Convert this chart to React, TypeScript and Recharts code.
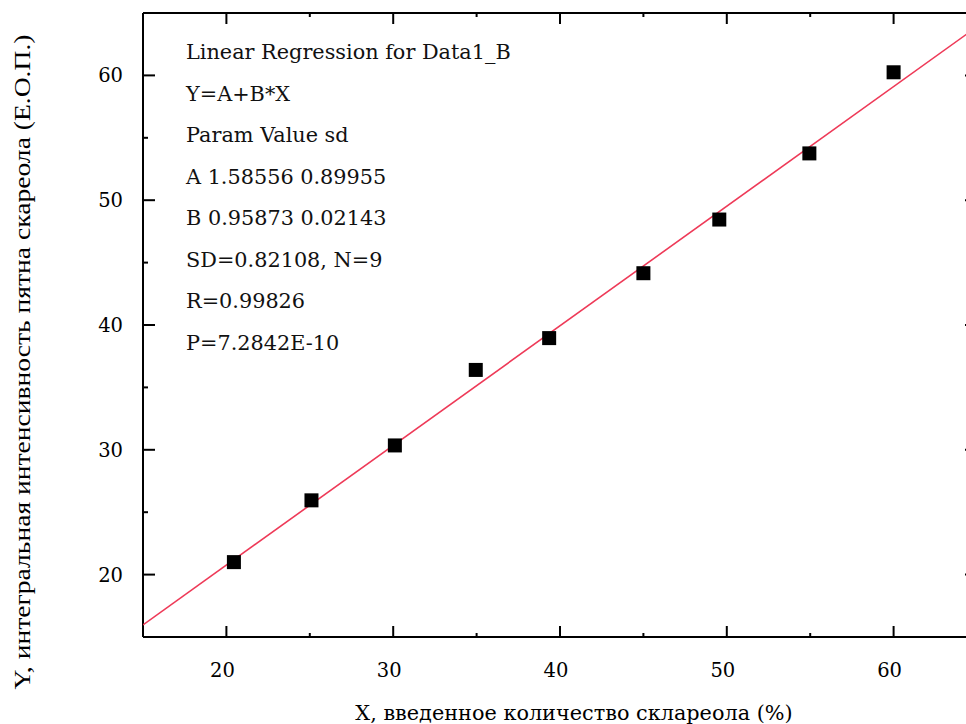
import React from "react";
import { ScatterChart, Scatter, XAxis, YAxis } from "recharts";

// measured points (X %, Y intensity)
const xValues = [20.45, 25.1, 30.1, 34.95, 39.35, 45.0, 49.55, 54.95, 60.0];
const yValues = [21.0, 25.95, 30.35, 36.4, 38.95, 44.15, 48.45, 53.75, 60.25];

// fitted line Y = A + B*X, end points at the edges of the frame
const fitX = [15, 65];
const fitY = [15.97, 63.9];

const majorTicks = [20, 30, 40, 50, 60];
const allTicks = [20, 25, 30, 35, 40, 45, 50, 55, 60, 65];

const statsLines = [
  "Linear Regression for Data1_B",
  "Y=A+B*X",
  "Param Value sd",
  "A 1.58556 0.89955",
  "B 0.95873 0.02143",
  "SD=0.82108, N=9",
  "R=0.99826",
  "P=7.2842E-10",
];

const xTitle = "X, введенное количество склареола (%)";
const yTitle = "Y, интегральная интенсивность пятна скареола (Е.О.П.)";

const points = xValues.map((x, i) => ({ x, y: yValues[i] }));
const fitData = fitX.map((x, i) => ({ x, y: fitY[i] }));

const FONT = "'DejaVu Serif', 'Liberation Serif', serif";
const isMajor = (v: number) => majorTicks.includes(v);

const BottomTick = ({ x, y, payload }: any) => {
  const major = isMajor(payload.value);
  return (
    <g>
      <line x1={x} x2={x} y1={y} y2={y - (major ? 11 : 4)} stroke="#000" strokeWidth={2} />
      {major && (
        <text x={x - 4} y={y + 40} textAnchor="middle" fontSize={19.5} fontFamily={FONT} fill="#000">
          {payload.value}
        </text>
      )}
    </g>
  );
};

const TopTick = ({ x, y, payload }: any) => {
  const major = isMajor(payload.value);
  return <line x1={x} x2={x} y1={y} y2={y + (major ? 11 : 4)} stroke="#000" strokeWidth={2} />;
};

const LeftTick = ({ x, y, payload }: any) => {
  const major = isMajor(payload.value);
  return (
    <g>
      <line x1={x} x2={x + (major ? 12 : 5)} y1={y} y2={y} stroke="#000" strokeWidth={2} />
      {major && (
        <text x={x - 20} y={y + 7} textAnchor="end" fontSize={19.5} fontFamily={FONT} fill="#000">
          {payload.value}
        </text>
      )}
    </g>
  );
};

const RightTick = ({ x, y, payload }: any) => {
  const major = isMajor(payload.value);
  return <line x1={x} x2={x - (major ? 12 : 5)} y1={y} y2={y} stroke="#000" strokeWidth={2} />;
};

const Square = ({ cx, cy }: any) => (
  <rect x={cx - 7} y={cy - 7} width={14} height={14} fill="#000" />
);

const NoDot = () => <g />;

export default function App() {
  return (
    <div
      style={{
        position: "absolute", left: 0, top: 0, width: 966, height: 724,
        overflow: "hidden", background: "#fff",
      }}
    >
      <ScatterChart width={980} height={724} margin={{ top: 0, right: 0, bottom: 0, left: 0 }}>
        <XAxis
          xAxisId="b" type="number" dataKey="x" domain={[15, 65]} allowDataOverflow
          ticks={allTicks} interval={0} height={87} tickSize={0} tickMargin={0}
          tick={<BottomTick />} tickLine={false}
          axisLine={{ stroke: "#000", strokeWidth: 2 }}
        />
        <XAxis
          xAxisId="t" orientation="top" type="number" dataKey="x" domain={[15, 65]} allowDataOverflow
          ticks={allTicks} interval={0} height={13} tickSize={0} tickMargin={0}
          tick={<TopTick />} tickLine={false}
          axisLine={{ stroke: "#000", strokeWidth: 2 }}
        />
        <YAxis
          yAxisId="l" type="number" dataKey="y" domain={[15, 65]} allowDataOverflow
          ticks={allTicks} interval={0} width={143} tickSize={0} tickMargin={0}
          tick={<LeftTick />} tickLine={false}
          axisLine={{ stroke: "#000", strokeWidth: 2 }}
        />
        <YAxis
          yAxisId="r" orientation="right" type="number" dataKey="y" domain={[15, 65]} allowDataOverflow
          ticks={allTicks} interval={0} width={3} tickSize={0} tickMargin={0}
          tick={<RightTick />} tickLine={false}
          axisLine={{ stroke: "#000", strokeWidth: 2 }}
        />
        <Scatter
          xAxisId="t" yAxisId="r" data={fitData} shape={<NoDot />}
          line={{ stroke: "#ee3a58", strokeWidth: 1.6 }} isAnimationActive={false}
        />
        <Scatter
          xAxisId="b" yAxisId="l" data={points} shape={<Square />} isAnimationActive={false}
        />
        <g>
          {statsLines.map((s, i) => (
            <text key={s} x={186} y={59 + i * 41.5} fontSize={20.8} fontFamily={FONT} fill="#111">
              {s}
            </text>
          ))}
          <text
            x={574} y={720} textAnchor="middle" fontSize={20.8} fontFamily={FONT} fill="#000"
          >
            {xTitle}
          </text>
          <text
            transform="translate(30 362) rotate(-90)" textAnchor="middle"
            fontSize={24} fontFamily="'Liberation Serif', serif" fill="#000"
            textLength={655} lengthAdjust="spacingAndGlyphs"
          >
            {yTitle}
          </text>
        </g>
      </ScatterChart>
    </div>
  );
}
